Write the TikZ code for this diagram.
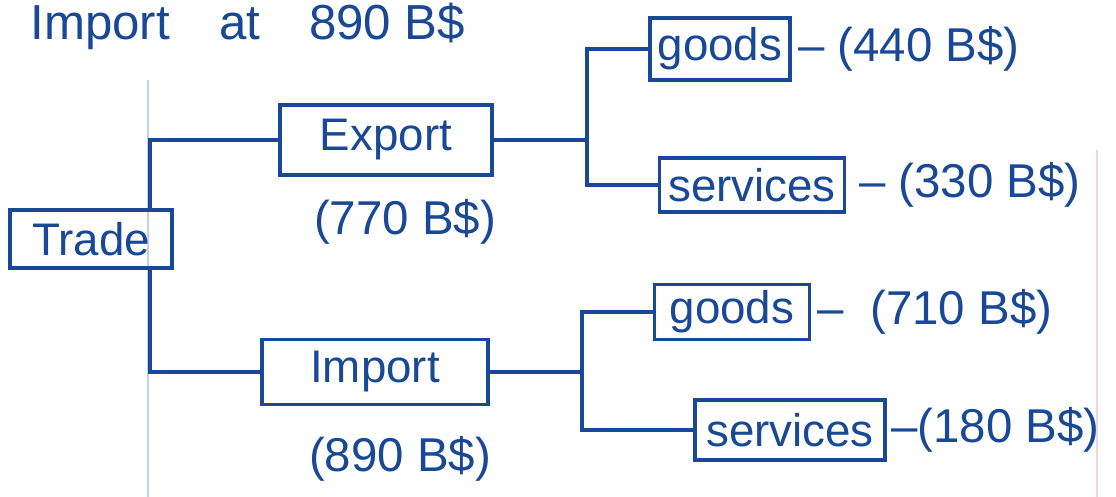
\documentclass[tikz,border=0pt]{standalone}
\usepackage{fontspec}
\setmainfont{Liberation Sans}
\usepackage{tikz}
\usetikzlibrary{positioning}
\usepackage{xcolor}
\definecolor{ink}{RGB}{24, 72, 150}
\definecolor{margin}{RGB}{200, 205, 235}
\definecolor{marginr}{RGB}{240, 215, 220}

\tikzset{
    box/.style={draw=ink, line width=2pt, rectangle, text=ink, font=\fontsize{26}{30}\selectfont, inner sep=2pt},
    val/.style={text=ink, font=\fontsize{27}{32}\selectfont, inner sep=0pt},
    link/.style={draw=ink, line width=2pt}
}

\begin{document}
\begin{tikzpicture}
    \useasboundingbox[fill=white] (0,0) rectangle (22.32,-9.94);
    % notebook margin lines
    \draw[margin, line width=0.8pt] (2.96,-1.6) -- (2.96,-9.94);
    \draw[marginr, line width=0.8pt] (21.94,-3.0) -- (21.94,-9.94);

    \node[text=ink, font=\fontsize{28}{32}\selectfont, anchor=north west, inner sep=0pt] (head) at (0.6,-0.06) {Import\quad at\quad 890 B\$};

    \node[box, minimum width=3.24cm, minimum height=1.16cm] (trade) at (1.82,-4.78) {Trade};
    \node[box, minimum width=4.24cm, minimum height=1.4cm] (export) at (7.72,-2.8) {Export};
    \node[box, minimum width=4.52cm, minimum height=1.3cm] (import) at (7.5,-7.44) {Import};
    \node[val, below=0.45cm of export, xshift=0.38cm] (exportval) {(770 B\$)};
    \node[val, below=0.6cm of import, xshift=0.5cm] (importval) {(890 B\$)};

    \node[box, minimum width=2.8cm, minimum height=1.24cm] (goodsA) at (14.4,-0.98) {goods};
    \node[box, minimum width=3.7cm, minimum height=1.08cm] (servA) at (15.04,-3.7) {services};
    \node[box, minimum width=3.1cm, minimum height=1.1cm] (goodsB) at (14.64,-6.24) {goods};
    \node[box, minimum width=3.8cm, minimum height=1.2cm] (servB) at (15.8,-8.6) {services};

    \node[val, right=0.12cm of goodsA] (goodsAval) {-- (440 B\$)};
    \node[val, right=0.25cm of servA] (servAval) {-- (330 B\$)};
    \node[val, right=0.12cm of goodsB] (goodsBval) {-- \ (710 B\$)};
    \node[val, right=0.08cm of servB] (servBval) {--(180 B\$)};

    % trade splits into export / import
    \draw[link] ([xshift=1.18cm]trade.north) |- (export.west);
    \draw[link] ([xshift=1.18cm]trade.south) |- (import.west);

    % export branch
    \draw[link] (export.east) -- ++(1.86,0) coordinate (ejoin);
    \draw[link] (ejoin) |- (goodsA.west);
    \draw[link] (ejoin) |- (servA.west);

    % import branch
    \draw[link] (import.east) -- ++(1.84,0) coordinate (ijoin);
    \draw[link] (ijoin) |- (goodsB.west);
    \draw[link] (ijoin) |- (servB.west);
\end{tikzpicture}
\end{document}
